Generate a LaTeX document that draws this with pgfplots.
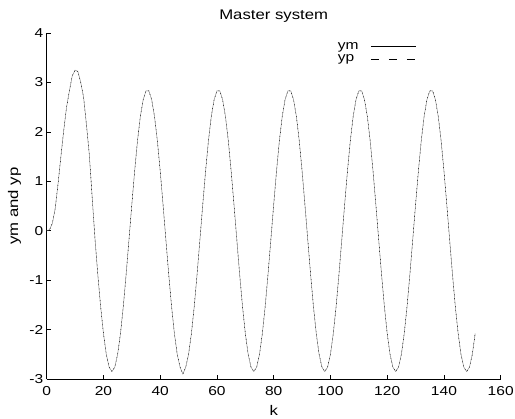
\documentclass[border=0pt]{standalone}
\usepackage{fontspec}
\setmainfont{Liberation Sans}[FakeStretch=1.2]
\usepackage{pgfplots}
\usepackage{pgfplotstable}
\pgfplotsset{compat=1.18}
\pgfplotstableread{
k ym yp
0 0 0
1 0.02 0.02
2 0.15 0.15
3 0.45 0.45
4 0.95 0.95
5 1.5 1.5
6 2.03 2.03
7 2.5 2.5
8 2.83 2.83
9 3.13 3.13
10 3.25 3.25
11 3.22 3.22
12 3.0 3.0
13 2.7 2.7
14 2.15 2.15
15 1.55 1.55
16 0.7 0.7
17 -0.15 -0.15
18 -0.88 -0.88
19 -1.53 -1.53
20 -2.08 -2.08
21 -2.50 -2.50
22 -2.76 -2.76
23 -2.85 -2.85
24 -2.76 -2.76
25 -2.50 -2.50
26 -2.08 -2.08
27 -1.53 -1.53
28 -0.88 -0.88
29 -0.18 -0.18
30 0.53 0.53
31 1.21 1.21
32 1.82 1.82
33 2.31 2.31
34 2.65 2.65
35 2.83 2.83
36 2.83 2.83
37 2.65 2.65
38 2.31 2.31
39 1.82 1.82
40 1.21 1.21
41 0.53 0.53
42 -0.18 -0.18
43 -0.88 -0.88
44 -1.53 -1.53
45 -2.08 -2.08
46 -2.50 -2.50
47 -2.76 -2.76
48 -2.90 -2.90
49 -2.76 -2.76
50 -2.50 -2.50
51 -2.08 -2.08
52 -1.53 -1.53
53 -0.88 -0.88
54 -0.18 -0.18
55 0.53 0.53
56 1.21 1.21
57 1.82 1.82
58 2.31 2.31
59 2.65 2.65
60 2.83 2.83
61 2.83 2.83
62 2.65 2.65
63 2.31 2.31
64 1.82 1.82
65 1.21 1.21
66 0.53 0.53
67 -0.18 -0.18
68 -0.88 -0.88
69 -1.53 -1.53
70 -2.08 -2.08
71 -2.50 -2.50
72 -2.76 -2.76
73 -2.85 -2.85
74 -2.76 -2.76
75 -2.50 -2.50
76 -2.08 -2.08
77 -1.53 -1.53
78 -0.88 -0.88
79 -0.18 -0.18
80 0.53 0.53
81 1.21 1.21
82 1.82 1.82
83 2.31 2.31
84 2.65 2.65
85 2.83 2.83
86 2.83 2.83
87 2.65 2.65
88 2.31 2.31
89 1.82 1.82
90 1.21 1.21
91 0.53 0.53
92 -0.18 -0.18
93 -0.88 -0.88
94 -1.53 -1.53
95 -2.08 -2.08
96 -2.50 -2.50
97 -2.76 -2.76
98 -2.85 -2.85
99 -2.76 -2.76
100 -2.50 -2.50
101 -2.08 -2.08
102 -1.53 -1.53
103 -0.88 -0.88
104 -0.18 -0.18
105 0.53 0.53
106 1.21 1.21
107 1.82 1.82
108 2.31 2.31
109 2.65 2.65
110 2.83 2.83
111 2.83 2.83
112 2.65 2.65
113 2.31 2.31
114 1.82 1.82
115 1.21 1.21
116 0.53 0.53
117 -0.18 -0.18
118 -0.88 -0.88
119 -1.53 -1.53
120 -2.08 -2.08
121 -2.50 -2.50
122 -2.76 -2.76
123 -2.85 -2.85
124 -2.76 -2.76
125 -2.50 -2.50
126 -2.08 -2.08
127 -1.53 -1.53
128 -0.88 -0.88
129 -0.18 -0.18
130 0.53 0.53
131 1.21 1.21
132 1.82 1.82
133 2.31 2.31
134 2.65 2.65
135 2.83 2.83
136 2.83 2.83
137 2.65 2.65
138 2.31 2.31
139 1.82 1.82
140 1.21 1.21
141 0.53 0.53
142 -0.18 -0.18
143 -0.88 -0.88
144 -1.53 -1.53
145 -2.08 -2.08
146 -2.50 -2.50
147 -2.76 -2.76
148 -2.85 -2.85
149 -2.76 -2.76
150 -2.50 -2.50
151 -2.08 -2.08
}\datatable
\begin{document}
\begin{tikzpicture}
\begin{axis}[
  name=ax,
  width=454bp, height=346bp, scale only axis,
  xmin=0, xmax=160, ymin=-3, ymax=4,
  axis lines*=left,
  axis line style={black, line width=0.8pt},
  xtick={0,20,...,160}, ytick={-3,-2,...,4},
  tick align=inside, major tick length=4bp,
  tick style={black, line width=0.6pt},
  /pgf/number format/assume math mode=true,
  ticklabel style={font=\fontsize{13}{15}\selectfont},
  xticklabel style={yshift=-4bp},
  title={Master system},
  title style={font=\fontsize{14}{16}\selectfont, yshift=1bp},
  xlabel={k},
  ylabel={ym and yp},
  label style={font=\fontsize{14}{16}\selectfont},
  xlabel style={yshift=-3bp},
  ylabel style={yshift=1.5bp},
  legend style={draw=none, fill=none, at={(0.63,0.985)}, anchor=north west,
    font=\fontsize{13}{14}\selectfont, row sep=0bp, column sep=10bp},
  legend plot pos=right,
  legend cell align=left,
  legend image code/.code={\draw[#1] (0bp,0bp) -- (45bp,0bp);},
]
\addplot[black!50, line width=0.45pt, forget plot] table[x=k, y=ym] {\datatable};
\addplot[black, line width=0.4pt, dash pattern=on 1pt off 3pt, forget plot] table[x=k, y=yp] {\datatable};
\addlegendimage{black, line width=0.6pt}
\addlegendentry{ym}
\addlegendimage{black, line width=0.6pt, dash pattern=on 8bp off 10bp}
\addlegendentry{yp}
\end{axis}
\pgfresetboundingbox
\path ([xshift=-46.7bp,yshift=-40bp]ax.south west) rectangle ([xshift=14.3bp,yshift=33bp]ax.north east);
\end{tikzpicture}
\end{document}
